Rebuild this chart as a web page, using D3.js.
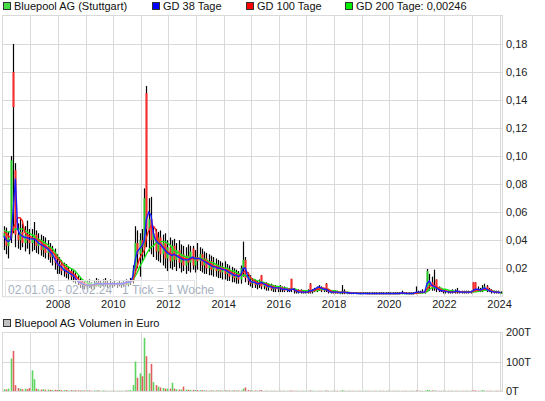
<!DOCTYPE html>
<html><head><meta charset="utf-8">
<script src="https://cdn.jsdelivr.net/npm/d3@7"></script>
<style>
body{margin:0;background:#fff}
svg{display:block}
text{font-family:"Liberation Sans",Arial,sans-serif}
</style>
</head><body>
<svg id="c" width="545" height="401"></svg>
<script>
// ---- DATA (monthly, Jan 2006 .. Jan 2024) ----
const firstMonth = new Date(2006, 0, 1);
const rangeStart = new Date(2006, 0, 2);
const rangeEnd = new Date(2024, 1, 2);

const open = [
.042,.045,.036,.042,.160,.090,.044,.040,.046,.038,.044,.040,
.038,.042,.044,.036,.040,.033,.038,.031,.035,.028,.031,.024,
.022,.023,.018,.021,.016,.018,.014,.015,.011,.010,.008,.009,
.007,.009,.008,.007,.009,.010,.008,.009,.010,.008,.009,.008,
.009,.008,.009,.008,.009,.010,.009,.010,.011,.019,.038,.030,
.040,.035,.145,.048,.055,.040,.045,.032,.042,.030,.038,.027,
.035,.025,.036,.026,.033,.024,.030,.022,.029,.024,.034,.022,
.028,.025,.030,.022,.027,.020,.025,.019,.023,.018,.021,.017,
.020,.016,.019,.014,.017,.013,.016,.012,.020,.026,.013,.011,
.009,.011,.008,.010,.015,.007,.009,.006,.008,.005,.007,.005,
.006,.005,.006,.004,.005,.0125,.005,.004,.003,.004,.003,.003,
.003,.009,.003,.004,.005,.006,.005,.004,.009,.004,.003,.003,
.0025,.003,.002,.0025,.003,.002,.0025,.002,.0025,.002,.0025,.002,
.002,.0025,.002,.0025,.002,.0025,.002,.0025,.002,.0025,.002,.0025,
.002,.0025,.002,.0025,.002,.0025,.002,.0025,.002,.0025,.002,.0025,
.0025,.003,.0025,.003,.003,.008,.010,.006,.012,.005,.004,.0045,
.003,.0035,.003,.0035,.003,.004,.003,.0035,.003,.0035,.003,.0035,
.010,.010,.005,.004,.005,.006,.007,.005,.004,.003,.0035,.003,
.0025];
const close = [
.045,.036,.042,.097,.135,.044,.040,.046,.038,.044,.040,.038,
.042,.044,.036,.040,.033,.038,.031,.035,.028,.031,.024,.022,
.023,.018,.021,.016,.018,.014,.015,.011,.010,.008,.009,.007,
.009,.008,.007,.009,.010,.008,.009,.010,.008,.009,.008,.009,
.008,.009,.008,.009,.010,.009,.010,.011,.019,.038,.030,.040,
.035,.070,.048,.055,.040,.045,.032,.042,.030,.038,.027,.035,
.025,.036,.026,.033,.024,.030,.022,.029,.024,.032,.022,.028,
.025,.030,.022,.027,.020,.025,.019,.023,.018,.021,.017,.020,
.016,.019,.014,.017,.013,.016,.012,.020,.026,.013,.011,.009,
.011,.008,.010,.008,.007,.009,.006,.008,.005,.007,.005,.006,
.005,.006,.004,.005,.004,.005,.004,.003,.004,.003,.003,.003,
.004,.003,.004,.005,.006,.005,.004,.005,.004,.003,.003,.0025,
.003,.002,.0025,.003,.002,.0025,.002,.0025,.002,.0025,.002,.002,
.0025,.002,.0025,.002,.0025,.002,.0025,.002,.0025,.002,.0025,.002,
.0025,.002,.0025,.002,.0025,.002,.0025,.002,.0025,.002,.0025,.002,
.003,.0025,.003,.003,.018,.010,.006,.007,.005,.004,.0045,.003,
.0035,.003,.0035,.003,.004,.003,.0035,.003,.0035,.003,.0035,.003,
.005,.005,.004,.005,.006,.007,.005,.004,.003,.0035,.003,.0025,
.0025];
const high = [
.050,.049,.046,.100,.180,.095,.052,.055,.052,.050,.054,.048,
.048,.053,.047,.045,.044,.043,.042,.040,.038,.036,.034,.030,
.028,.026,.024,.023,.021,.020,.019,.017,.015,.013,.012,.011,
.011,.012,.010,.011,.013,.012,.011,.012,.013,.011,.012,.010,
.011,.010,.011,.010,.011,.012,.011,.013,.022,.050,.047,.045,
.048,.077,.150,.070,.071,.050,.048,.046,.047,.044,.045,.040,
.042,.040,.041,.038,.040,.037,.036,.035,.037,.036,.036,.033,
.038,.035,.034,.032,.031,.030,.029,.028,.027,.026,.025,.024,
.025,.023,.022,.021,.020,.019,.018,.022,.039,.028,.017,.015,
.013,.012,.011,.012,.015,.010,.010,.009,.009,.008,.008,.007,
.008,.007,.007,.006,.006,.0125,.006,.005,.005,.005,.004,.004,
.005,.0094,.005,.006,.007,.008,.007,.006,.0094,.005,.004,.004,
.004,.004,.003,.008,.005,.003,.003,.003,.003,.003,.003,.003,
.003,.003,.003,.003,.003,.003,.003,.003,.003,.003,.003,.003,
.003,.003,.003,.003,.003,.004,.003,.003,.003,.003,.003,.007,
.004,.004,.005,.004,.0195,.016,.014,.019,.012,.007,.006,.005,
.005,.004,.004,.005,.005,.006,.004,.004,.004,.004,.004,.004,
.010,.010,.007,.006,.008,.009,.008,.006,.005,.004,.004,.004,
.0035];
const low = [
.033,.030,.027,.038,.045,.035,.034,.033,.035,.032,.034,.030,
.032,.033,.031,.030,.029,.028,.027,.026,.024,.022,.019,.016,
.016,.015,.014,.013,.012,.011,.010,.009,.008,.006,.005,.005,
.005,.006,.005,.005,.007,.007,.006,.007,.007,.006,.007,.006,
.007,.006,.007,.006,.007,.008,.007,.008,.009,.016,.020,.014,
.025,.028,.035,.032,.030,.028,.026,.025,.024,.022,.020,.018,
.020,.019,.021,.018,.020,.017,.018,.016,.018,.017,.019,.017,
.019,.018,.017,.016,.016,.015,.015,.014,.014,.013,.013,.012,
.012,.011,.011,.010,.010,.009,.009,.009,.014,.010,.008,.007,
.006,.006,.005,.006,.005,.005,.004,.004,.004,.003,.003,.003,
.003,.003,.003,.003,.003,.003,.002,.002,.002,.002,.002,.002,
.002,.002,.002,.003,.003,.004,.003,.003,.003,.002,.002,.002,
.002,.002,.0015,.0015,.0015,.0015,.0015,.0015,.0015,.0015,.0015,.0015,
.0015,.0015,.0015,.0015,.0015,.0015,.0015,.0015,.0015,.0015,.0015,.0015,
.0015,.0015,.0015,.0015,.0015,.0015,.0015,.0015,.0015,.0015,.0015,.0015,
.002,.002,.002,.002,.003,.004,.004,.004,.003,.003,.003,.002,
.002,.002,.002,.002,.002,.002,.002,.002,.002,.002,.002,.002,
.003,.003,.003,.003,.003,.004,.003,.003,.002,.002,.002,.002,
.002];
// volume in thousand euro (T)
const volumeT = [
6,5,8,110,136,20,10,8,6,8,6,10,
70,40,8,6,5,6,4,5,4,3,4,3,
4,3,3,3,2,3,2,3,2,2,2,2,
2,2,1,2,2,2,1,2,1,1,1,1,
1,1,1,1,1,2,2,3,20,100,45,60,
50,180,118,60,92,30,20,15,12,10,8,8,
8,28,8,6,5,5,15,5,4,4,4,3,
3,3,3,2,2,2,2,2,2,2,2,2,
2,2,2,2,2,2,2,2,8,12,3,2,
2,2,1,2,3,1,1,1,1,1,1,1,
1,1,1,1,1,2,1,1,1,1,1,1,
1,2,1,1,1,1,1,1,2,1,1,1,
1,1,1,3,1,1,1,1,1,1,1,1,
1,1,1,1,1,1,1,1,1,1,1,1,
1,1,1,1,1,1,1,1,1,1,1,2,
1,1,1,1,4,3,2,2,1,1,1,1,
1,1,1,1,1,1,1,1,1,1,1,1,
2,2,1,1,3,2,1,1,1,1,1,1,
1];
const gd38 = [
.043,.040,.039,.041,.060,.084,.048,.044,.043,.042,.042,.041,
.041,.041,.040,.038,.037,.036,.035,.034,.032,.030,.027,.024,
.022,.021,.019,.018,.017,.016,.015,.013,.011,.010,.009,.008,
.008,.008,.008,.008,.009,.009,.009,.009,.009,.009,.009,.009,
.009,.009,.009,.009,.009,.010,.010,.010,.014,.025,.032,.034,
.036,.040,.055,.060,.058,.045,.040,.038,.037,.035,.033,.031,
.030,.029,.030,.029,.028,.027,.026,.026,.026,.027,.028,.027,
.027,.027,.026,.025,.024,.023,.022,.021,.021,.020,.020,.019,
.019,.018,.017,.016,.015,.015,.014,.015,.020,.020,.014,.011,
.010,.010,.009,.009,.010,.009,.008,.007,.007,.006,.006,.006,
.006,.005,.005,.005,.004,.005,.005,.004,.003,.003,.003,.003,
.003,.004,.004,.005,.006,.0066,.006,.005,.005,.004,.003,.003,
.003,.003,.0025,.003,.003,.0025,.0025,.0022,.0022,.0022,.002,.002,
.002,.002,.002,.002,.002,.002,.002,.002,.002,.002,.002,.002,
.002,.002,.002,.002,.002,.0025,.0022,.002,.002,.002,.002,.0028,
.003,.003,.003,.003,.009,.011,.008,.007,.006,.005,.004,.004,
.0035,.0032,.003,.003,.0032,.0038,.0032,.003,.003,.003,.003,.003,
.004,.005,.005,.0045,.005,.006,.005,.004,.0035,.003,.003,.003,
.0025];
const gd100 = [
.046,.045,.043,.042,.048,.052,.056,.056,.054,.046,.044,.043,
.042,.041,.041,.040,.039,.037,.036,.035,.034,.032,.030,.028,
.026,.024,.022,.020,.019,.017,.016,.015,.013,.011,.010,.009,
.008,.008,.008,.008,.008,.009,.009,.009,.009,.009,.009,.009,
.009,.009,.009,.009,.009,.009,.010,.010,.011,.016,.022,.027,
.030,.033,.042,.047,.050,.050,.048,.040,.038,.036,.034,.032,
.031,.030,.030,.029,.029,.028,.027,.027,.026,.026,.027,.027,
.027,.027,.026,.026,.025,.024,.023,.022,.021,.021,.020,.020,
.019,.019,.018,.017,.016,.015,.015,.015,.017,.018,.017,.014,
.012,.011,.010,.009,.009,.009,.009,.008,.007,.007,.006,.006,
.006,.006,.005,.005,.005,.005,.005,.004,.004,.004,.003,.003,
.003,.003,.004,.004,.005,.005,.006,.006,.005,.005,.004,.003,
.003,.003,.003,.003,.003,.003,.0025,.0025,.0022,.0022,.0022,.0022,
.0022,.0021,.002,.002,.002,.002,.002,.002,.002,.002,.002,.002,
.002,.002,.002,.002,.002,.0022,.0022,.0022,.002,.002,.002,.0022,
.0023,.0026,.0028,.003,.005,.007,.008,.008,.007,.006,.005,.004,
.004,.0035,.0032,.003,.003,.0032,.0033,.0032,.003,.003,.003,.003,
.0033,.004,.0043,.0043,.0048,.005,.005,.0048,.004,.0033,.003,.003,
.0026];
const gd200 = [
.047,.046,.046,.046,.047,.048,.048,.048,.048,.047,.046,.045,
.044,.043,.041,.041,.040,.039,.038,.037,.035,.034,.032,.029,
.027,.025,.023,.022,.021,.020,.019,.018,.016,.014,.012,.011,
.010,.009,.009,.008,.008,.008,.008,.009,.009,.009,.009,.009,
.009,.009,.009,.009,.009,.009,.009,.010,.012,.014,.017,.021,
.024,.027,.030,.033,.035,.036,.038,.039,.039,.039,.039,.038,
.037,.035,.033,.032,.031,.030,.029,.028,.028,.027,.027,.027,
.027,.027,.027,.026,.026,.025,.024,.024,.023,.022,.021,.021,
.020,.020,.019,.018,.018,.017,.016,.016,.015,.015,.014,.013,
.012,.012,.011,.011,.010,.010,.009,.009,.008,.008,.007,.007,
.007,.006,.006,.006,.005,.005,.005,.005,.004,.004,.004,.004,
.004,.0035,.0035,.004,.004,.0045,.005,.005,.005,.005,.004,.004,
.004,.0035,.003,.003,.003,.003,.003,.0025,.0025,.0023,.0022,.0022,
.0022,.0022,.0021,.002,.002,.002,.002,.002,.002,.002,.002,.002,
.002,.002,.002,.002,.002,.002,.002,.002,.002,.002,.002,.0021,
.0022,.0023,.0025,.0027,.004,.005,.006,.006,.006,.006,.006,.005,
.005,.0045,.004,.004,.0036,.0034,.0033,.0032,.0031,.003,.003,.003,
.003,.0032,.0034,.0037,.004,.0042,.0043,.0043,.004,.0037,.0033,.003,
.00246];

const priceTicks = [0.02,0.04,0.06,0.08,0.10,0.12,0.14,0.16,0.18];
const yearLabels = [2008,2010,2012,2014,2016,2018,2020,2022,2024];
const volumeTicks = [0,100,200];
const legendItems = ["Bluepool AG (Stuttgart)","GD 38 Tage","GD 100 Tage","GD 200 Tage: 0,00246"];
const volumeTitle = "Bluepool AG Volumen in Euro";
const rangeNote = "02.01.06 - 02.02.24";
const tickNote = "1 Tick = 1 Woche";

// ---- LAYOUT ----
const L = 3, R = 502, T = 16, B = 296.3;
const VT = 332, VB = 391;
const gridC = "#d9d9d9";
const upC = "#22cc22", downC = "#ff2a2a";

const svg = d3.select("#c");
const n = Math.min(open.length, close.length, high.length, low.length);
const months = d3.timeMonth.range(firstMonth, d3.timeMonth.offset(firstMonth, n));
const mid = months.map(m => d3.timeDay.offset(m, 14));

const x = d3.scaleTime().domain([rangeStart, rangeEnd]).range([L, R]);
const y = d3.scaleLinear().domain([0, 0.2]).range([B, T]);
const yv = d3.scaleLinear().domain([0, 200]).range([VB, VT]);
const years = d3.timeYear.range(new Date(2007,0,1), new Date(2024,0,2));

// ---- main panel grid ----
const gMain = svg.append("g");
gMain.selectAll("line.hg").data(priceTicks).join("line")
  .attr("x1", L).attr("x2", R)
  .attr("y1", d => Math.round(y(d)) + 0.5).attr("y2", d => Math.round(y(d)) + 0.5)
  .attr("stroke", gridC);
gMain.selectAll("line.vg").data(years).join("line")
  .attr("x1", d => Math.round(x(d)) + 0.5).attr("x2", d => Math.round(x(d)) + 0.5)
  .attr("y1", T).attr("y2", B)
  .attr("stroke", gridC);
gMain.append("rect").attr("x", L - 0.5).attr("y", T - 0.5)
  .attr("width", R - L + 1).attr("height", B - T + 1)
  .attr("fill", "none").attr("stroke", gridC);

// ---- candles ----
const idx = d3.range(n);
const cg = svg.append("g");
cg.selectAll("line.w").data(idx).join("line")
  .attr("x1", i => Math.round(x(mid[i])) + 0.5)
  .attr("x2", i => Math.round(x(mid[i])) + 0.5)
  .attr("y1", i => y(high[i])).attr("y2", i => y(low[i]))
  .attr("stroke", "#000").attr("stroke-width", 1.2);
cg.selectAll("rect.b").data(idx).join("rect")
  .attr("x", i => Math.round(x(mid[i])) - 0.5)
  .attr("width", 2)
  .attr("y", i => y(Math.max(open[i], close[i])))
  .attr("height", i => Math.max(1, Math.abs(y(open[i]) - y(close[i]))))
  .attr("fill", i => close[i] >= open[i] ? upC : downC);

// ---- moving averages ----
[[gd200, "#19e619"], [gd100, "#ff2020"], [gd38, "#1a1aff"]].forEach(([arr, c]) => {
  svg.append("path").attr("d", d3.line().x(i => x(mid[i])).y(i => y(arr[i]))(idx.filter(i => i < arr.length)))
    .attr("fill", "none").attr("stroke", c).attr("stroke-width", 1.4);
});

// ---- range note ----
svg.append("rect").attr("x", 5.5).attr("y", 280.5).attr("width", 189).attr("height", 16)
  .attr("fill", "#fff").attr("fill-opacity", 0.55).attr("stroke", "#e4e4e4");
svg.append("text").attr("x", 8).attr("y", 293.5).attr("font-size", 12).attr("fill", "#a7b0bf")
  .text(rangeNote + "\u00a0\u00a0 " + tickNote);

// ---- axes labels ----
svg.selectAll("text.py").data(priceTicks).join("text")
  .attr("x", 506).attr("y", d => y(d) + 4).attr("font-size", 11).attr("fill", "#222")
  .text(d => d3.format(".2f")(d).replace(".", ","));
svg.selectAll("text.yr").data(yearLabels).join("text")
  .attr("x", d => x(new Date(d, 0, 1))).attr("y", 307.5).attr("text-anchor", "middle")
  .attr("font-size", 11).attr("fill", "#222").text(d => d);

// ---- legend ----
const legX = [3, 152, 246, 345];
const legC = ["#44dd44", "#0000ff", "#ff0000", "#00ee00"];
legendItems.forEach((t, i) => {
  svg.append("rect").attr("x", legX[i] + 0.5).attr("y", 2.5).attr("width", 7).attr("height", 7)
    .attr("fill", legC[i]).attr("stroke", "#333");
  svg.append("text").attr("x", legX[i] + 11).attr("y", 10).attr("font-size", 11).attr("fill", "#111").text(t);
});

// ---- volume panel ----
svg.append("rect").attr("x", 3.5).attr("y", 319.5).attr("width", 7).attr("height", 7)
  .attr("fill", "#c0c0c0").attr("stroke", "#333");
svg.append("text").attr("x", 14.5).attr("y", 327).attr("font-size", 11).attr("fill", "#111").text(volumeTitle);
const gV = svg.append("g");
gV.selectAll("line.vh").data(volumeTicks).join("line")
  .attr("x1", L).attr("x2", R)
  .attr("y1", d => Math.round(yv(d)) + 0.5).attr("y2", d => Math.round(yv(d)) + 0.5)
  .attr("stroke", gridC);
gV.selectAll("line.vv").data(years).join("line")
  .attr("x1", d => Math.round(x(d)) + 0.5).attr("x2", d => Math.round(x(d)) + 0.5)
  .attr("y1", VT).attr("y2", VB)
  .attr("stroke", gridC);
gV.append("rect").attr("x", L - 0.5).attr("y", VT + 0.5).attr("width", R - L + 1).attr("height", VB - VT)
  .attr("fill", "none").attr("stroke", gridC);
gV.selectAll("rect.vb").data(idx.filter(i => i < volumeT.length)).join("rect")
  .attr("x", i => Math.round(x(mid[i])) - 0.3).attr("width", 1.6)
  .attr("y", i => yv(volumeT[i])).attr("height", i => yv(0) - yv(volumeT[i]))
  .attr("fill", i => close[i] >= open[i] ? "#5fd35f" : "#e06060");
svg.selectAll("text.vl").data(volumeTicks).join("text")
  .attr("x", 506).attr("y", d => yv(d) + 4).attr("font-size", 11).attr("fill", "#222")
  .text(d => d + "T");
</script>
</body></html>
